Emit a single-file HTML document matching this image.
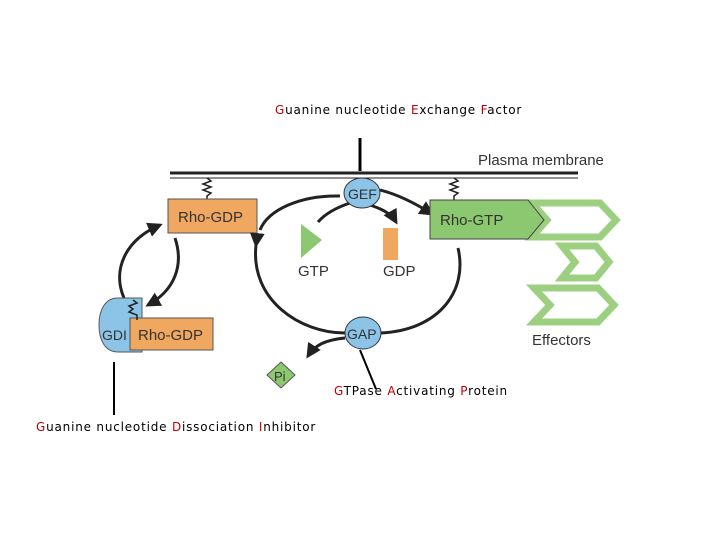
<!DOCTYPE html>
<html><head><meta charset="utf-8"><style>
body{margin:0;background:#fff;width:720px;height:540px;overflow:hidden}
.l{font-family:"Comic Sans MS","DejaVu Sans",sans-serif;font-size:12px;fill:#000;letter-spacing:0.8px}
.r{fill:#c00000}
.d{font-family:"Liberation Sans",sans-serif;font-size:15px;fill:#333}
</style></head><body>
<svg width="720" height="540" viewBox="0 0 720 540">
<defs><marker id="a" viewBox="0 0 10 10" refX="8" refY="5" markerWidth="5" markerHeight="5" orient="auto"><path d="M0,0L10,5L0,10z" fill="#222"/></marker></defs>
<text class="l" x="275" y="114"><tspan class="r">G</tspan>uanine nucleotide <tspan class="r">E</tspan>xchange <tspan class="r">F</tspan>actor</text>
<line x1="360" y1="138" x2="360" y2="171" stroke="#000" stroke-width="3"/>
<text class="d" x="478" y="165">Plasma membrane</text>
<line x1="170" y1="173" x2="578" y2="173" stroke="#222" stroke-width="3"/>
<line x1="170" y1="178" x2="578" y2="178" stroke="#222" stroke-width="1"/>
<path d="M207,178 l4,3 l-8,3 l8,3 l-8,3 l8,3 l-4,3 v5" fill="none" stroke="#222" stroke-width="1.5"/>
<path d="M454,178 l4,3 l-8,3 l8,3 l-8,3 l8,3 l-4,3 v5" fill="none" stroke="#222" stroke-width="1.5"/>
<rect x="168" y="199" width="89" height="34" fill="#f0a860" stroke="#555"/>
<text class="d" x="178" y="222">Rho-GDP</text>
<path d="M340,196 C300,195 268,210 260,230" fill="none" stroke="#222" stroke-width="3"/>
<path d="M256,245 C250,300 300,333 345,333" fill="none" stroke="#222" stroke-width="3" marker-start="url(#a)"/>
<path d="M381,333 C440,330 468,290 458,248" fill="none" stroke="#222" stroke-width="3"/>
<path d="M380,190 C400,195 418,205 432,214" fill="none" stroke="#222" stroke-width="3" marker-end="url(#a)"/>
<path d="M370,205 C385,210 392,215 396,222" fill="none" stroke="#222" stroke-width="3" marker-end="url(#a)"/>
<path d="M350,203 C335,208 325,214 318,222" fill="none" stroke="#222" stroke-width="3"/>
<path d="M345,338 C325,340 315,345 308,356" fill="none" stroke="#222" stroke-width="3" marker-end="url(#a)"/>
<path d="M124,298 C112,270 125,240 160,225" fill="none" stroke="#222" stroke-width="3" marker-end="url(#a)"/>
<path d="M175,238 C184,265 175,290 148,305" fill="none" stroke="#222" stroke-width="3" marker-end="url(#a)"/>
<ellipse cx="362" cy="193" rx="18" ry="15" fill="#8cc4e8" stroke="#333"/>
<text class="d" x="348" y="199" style="font-size:14px">GEF</text>
<ellipse cx="363" cy="333" rx="18" ry="16" fill="#8cc4e8" stroke="#333"/>
<text class="d" x="347" y="339" style="font-size:14px">GAP</text>
<g fill="none" stroke="#9cd080" stroke-width="7">
<path d="M532,203 H600 L616,220 L600,237 H532 L547,220Z"/>
<path d="M562,246 H596 L609,262 L596,278 H562 L575,262Z"/>
<path d="M534,288 H598 L614,305 L598,322 H534 L550,305Z"/>
</g>
<path d="M430,200 H528 L544,220 L528,239 H430Z" fill="#8cc870" stroke="#444"/>
<text class="d" x="440" y="225">Rho-GTP</text>
<path d="M301,224 L322,240 L301,258Z" fill="#8cc870"/>
<text class="d" x="298" y="276">GTP</text>
<rect x="383" y="228" width="15" height="32" fill="#f0a860"/>
<text class="d" x="383" y="276">GDP</text>
<text class="d" x="532" y="345">Effectors</text>
<path d="M142,298 V352 H118 C105,352 99,340 99,325 C99,310 105,298 118,298Z" fill="#8cc4e8" stroke="#555"/>
<rect x="130" y="318" width="83" height="32" fill="#f0a860" stroke="#555"/>
<text class="d" x="102" y="340" style="font-size:14px">GDI</text>
<text class="d" x="138" y="340">Rho-GDP</text>
<path d="M133,300 l4,3 l-8,3 l4,3 l-4,3 l8,3 v5" fill="none" stroke="#222" stroke-width="1.5"/>
<path d="M281,362 L295,375 L281,388 L267,375Z" fill="#8cc870" stroke="#555"/>
<text class="d" x="274" y="381" style="font-size:13px">Pi</text>
<line x1="360" y1="350" x2="376" y2="389" stroke="#000" stroke-width="2"/>
<text class="l" x="334" y="395"><tspan class="r">G</tspan>TPase <tspan class="r">A</tspan>ctivating <tspan class="r">P</tspan>rotein</text>
<line x1="114" y1="362" x2="114" y2="415" stroke="#000" stroke-width="2"/>
<text class="l" x="36" y="431"><tspan class="r">G</tspan>uanine nucleotide <tspan class="r">D</tspan>issociation <tspan class="r">I</tspan>nhibitor</text>
</svg>
</body></html>
